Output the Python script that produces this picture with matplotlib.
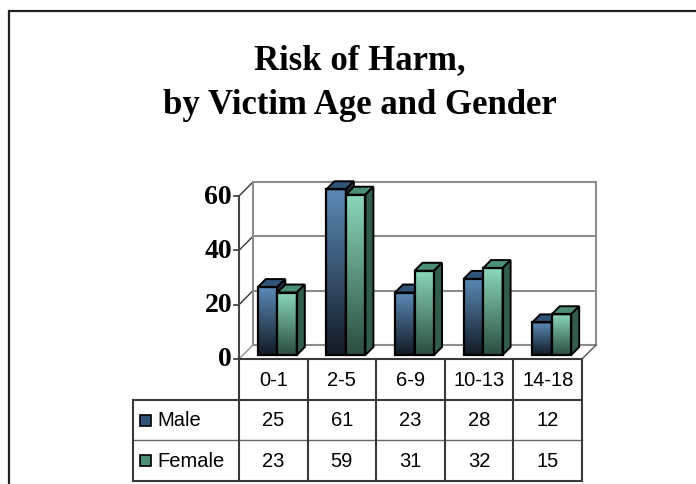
import numpy as np
import matplotlib
matplotlib.use("Agg")
from matplotlib import pyplot as plt
from matplotlib.patches import Polygon, Rectangle
from matplotlib.colors import LinearSegmentedColormap

# data
categories = ["0-1", "2-5", "6-9", "10-13", "14-18"]
male = [25, 61, 23, 28, 12]
female = [23, 59, 31, 32, 15]
series_names = ["Male", "Female"]
yticks = [0, 20, 40, 60]
title = "Risk of Harm,\nby Victim Age and Gender"

W, H = 696, 485
fig = plt.figure(figsize=(W / 100, H / 100), dpi=100)


def fx(px):
    return px / W


def fy(py):
    return 1 - py / H


# outer frame (runs off the right and bottom edge)
fig.patches.append(Rectangle((fx(9), -0.1), 1.2, fy(12) + 0.1, transform=fig.transFigure,
                             fill=False, edgecolor="#222222", linewidth=1.6))

fig.text(fx(360), fy(83), title, ha="center", va="center", fontsize=25,
         fontweight="bold", family="Liberation Serif", linespacing=1.5)

# main axes: x in category units, y in value units
unit_x = 68.6          # px per category
unit_y = 163 / 60      # px per value unit
x0_px, y0_px = 239, 360
right_px, top_px = 600, 180
ax = fig.add_axes([fx(x0_px), fy(y0_px), (right_px - x0_px) / W, (y0_px - top_px) / H])
ax.axis("off")

dx, dy = 14 / unit_x, 14 / unit_y          # wall depth
ox, oy = 4 / unit_x, 4 / unit_y            # bar front offset
bx, by = 8 / unit_x, 8 / unit_y            # bar depth
bw = 19.5 / unit_x
n = len(categories)
wall_c = "#8c8c8c"

# back wall + gridlines
for v in yticks:
    ax.plot([-0.5 + dx, n - 0.5 + dx], [v + dy, v + dy], color=wall_c, lw=1.5, clip_on=False)
    ax.plot([-0.5, -0.5 + dx], [v, v + dy], color="#333333" if v else wall_c, lw=1.0, clip_on=False)
    ax.plot([-0.5 - 5 / unit_x, -0.5], [v, v], color="#333333", lw=1.2, clip_on=False)
    ax.text(-0.5 - 7 / unit_x, v, str(v), ha="right", va="center", fontsize=20,
            fontweight="bold", family="Liberation Serif")
ax.plot([-0.5 + dx, -0.5 + dx], [dy, 60 + dy], color=wall_c, lw=1.5, clip_on=False)
ax.plot([n - 0.5 + dx, n - 0.5 + dx], [dy, 60 + dy], color=wall_c, lw=1.5, clip_on=False)
ax.plot([n - 0.5, n - 0.5 + dx], [0, dy], color="#555555", lw=1.0, clip_on=False)
ax.plot([-0.5, -0.5], [0, 60], color="#444444", lw=1.5, clip_on=False)

styles = [
    dict(top="#5b8bb7", bot="#121a24", cap="#2f5478", side="#1d3249"),
    dict(top="#8bd8b9", bot="#2a4d3f", cap="#4c8f74", side="#325d4b"),
]
xs = np.arange(n)
for k, vals in enumerate([male, female]):
    st = styles[k]
    left = xs - bw + ox if k == 0 else xs + ox
    bars = ax.bar(left, vals, width=bw, bottom=oy, align="edge", facecolor="none",
                  edgecolor="black", linewidth=1.6, zorder=3 + k * 3)
    cmap = LinearSegmentedColormap.from_list("g%d" % k, [st["bot"], st["top"]])
    grad = np.linspace(0, 1, 256).reshape(-1, 1)
    for b, v in zip(bars, vals):
        x, w = b.get_x(), b.get_width()
        top = oy + v
        im = ax.imshow(grad, cmap=cmap, origin="lower", aspect="auto",
                       extent=[x, x + w, oy, top], zorder=2 + k * 3)
        im.set_clip_path(b)
        ax.add_patch(Polygon([[x, top], [x + bx, top + by], [x + w + bx, top + by], [x + w, top]],
                             facecolor=st["cap"], edgecolor="black", lw=1.4, zorder=2 + k * 3))
        ax.add_patch(Polygon([[x + w, oy], [x + w + bx, oy + by], [x + w + bx, top + by], [x + w, top]],
                             facecolor=st["side"], edgecolor="black", lw=1.4, zorder=2 + k * 3))
ax.set_xlim(-0.5, -0.5 + (right_px - x0_px) / unit_x)
ax.set_ylim(0, (y0_px - top_px) / unit_y)

# data table below the chart
lab_px = 133
tab = fig.add_axes([fx(lab_px), fy(482), (582 - lab_px) / W, (482 - 360) / H])
xl = -0.5 - (x0_px - lab_px) / unit_x
tab.set_xlim(xl, n - 0.5)
tab.set_ylim(0, 3)
tab.axis("off")
lc = "#3a3a3a"
tab.plot([-0.5, n - 0.5], [3, 3], color=lc, lw=1.5, clip_on=False)
tab.plot([xl, n - 0.5], [2, 2], color=lc, lw=1.5, clip_on=False)
tab.plot([xl, n - 0.5], [1, 1], color="#666666", lw=1.0, clip_on=False)
tab.plot([xl, n - 0.5], [0, 0], color=lc, lw=1.5, clip_on=False)
tab.plot([xl, xl], [0, 2], color=lc, lw=1.5, clip_on=False)
for e in np.arange(n + 1) - 0.5:
    tab.plot([e, e], [0, 3], color=lc, lw=1.5, clip_on=False)
for i, c in enumerate(categories):
    tab.text(i, 2.5, c, ha="center", va="center", fontsize=14.5, family="Liberation Sans")
for r, (name, vals) in enumerate(zip(series_names, [male, female])):
    yc = 1.5 - r
    for i, v in enumerate(vals):
        tab.text(i, yc, str(v), ha="center", va="center", fontsize=14.5, family="Liberation Sans")
    sq = 11 / unit_x
    mx = xl + 7 / unit_x
    hy = 11 / (122 / 3)
    tab.add_patch(Rectangle((mx, yc - hy / 2), sq, hy, facecolor=styles[r]["cap"],
                            edgecolor="black", lw=1.2, clip_on=False))
    tab.text(mx + sq + 6 / unit_x, yc, name, ha="left", va="center", fontsize=14.5,
             family="Liberation Sans")

fig.savefig("out.png", dpi=100)
